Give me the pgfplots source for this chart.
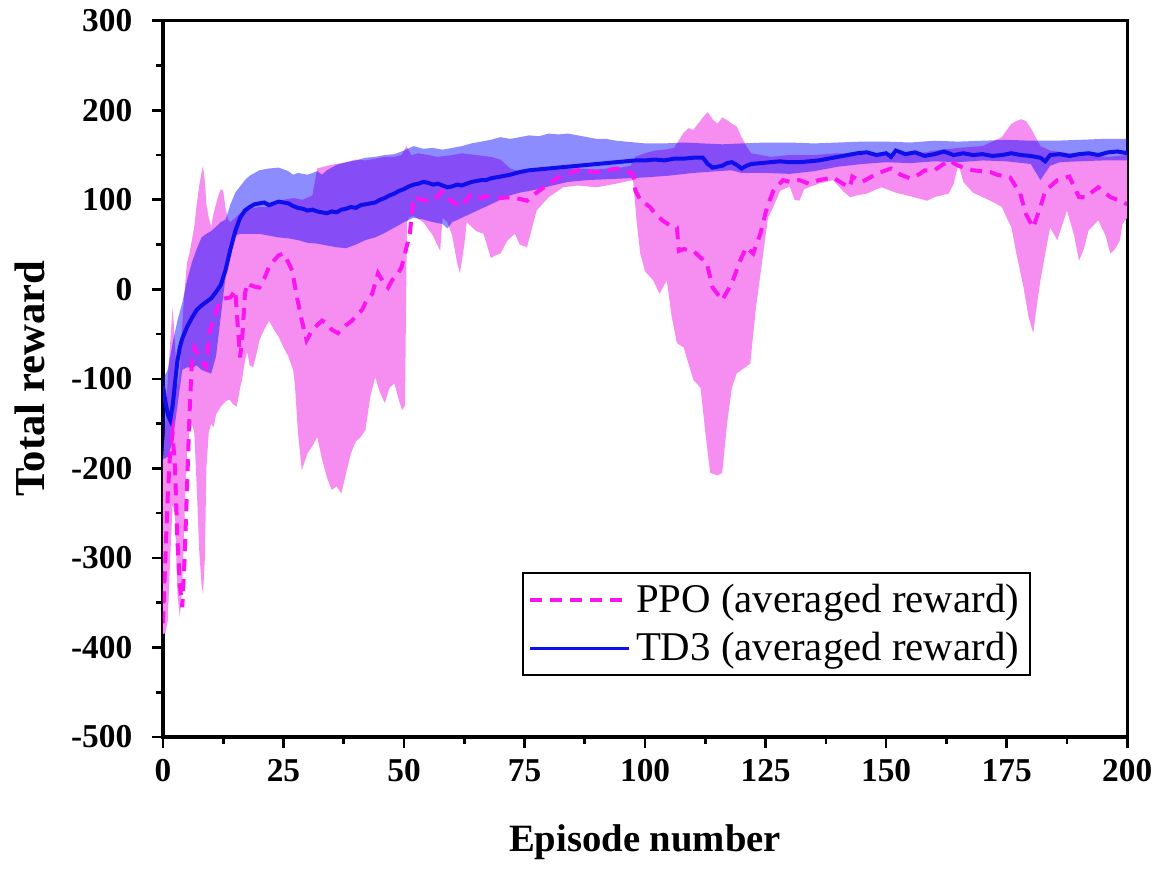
\documentclass[border=0pt]{standalone}
\usepackage{pgfplots}
\pgfplotsset{compat=1.18}
\usepgfplotslibrary{fillbetween}
\usepackage{fontspec}
\setmainfont{Liberation Serif}
\definecolor{ppofill}{RGB}{245,142,240}
\definecolor{ppoline}{RGB}{250,20,240}
\definecolor{tdline}{RGB}{15,15,235}
\begin{document}
\begin{tikzpicture}
\begin{axis}[
  width=361.5pt, height=268.5pt, scale only axis,
  xmin=0, xmax=200, ymin=-500, ymax=300,
  xtick={0,25,...,200}, ytick={-500,-400,...,300},
  minor x tick num=1, minor y tick num=1,
  tick align=outside, tick pos=left,
  major tick length=4pt, minor tick length=2.5pt,
  axis line style={line width=1.2pt}, every tick/.style={line width=1pt, black},
  /pgf/number format/assume math mode=true,
  ticklabel style={font=\fontsize{12.5}{12.5}\selectfont\bfseries},
  yticklabel style={xshift=-4pt},
  xticklabel style={yshift=-1pt},
  xlabel={Episode number}, ylabel={Total reward},
  xlabel style={font=\fontsize{14.5}{15}\selectfont\bfseries, yshift=-9pt},
  ylabel style={font=\fontsize{16}{16}\selectfont\bfseries},
  ylabel shift=3pt,
  legend style={at={(0.9,0.23)}, anchor=north east, font=\fontsize{15.3}{16}\selectfont,
    draw=black, line width=0.8pt, inner sep=2pt, row sep=2pt},
  legend cell align=left,
  legend image post style={line width=1.4pt},
  legend image code/.code={\draw[#1] (0cm,0cm) -- (1.3cm,0cm);},
]
% PPO band
\addplot[name path=pu, draw=none, forget plot] table {
0 -190
0.5 -150
1 -100
1.5 -60
2 -20
2.5 -60
3 -110
3.5 -90
4 -40
4.5 0
5 30
5.5 40
6 55
6.5 70
7 95
7.5 115
8 130
8.3 138
8.7 120
9 95
9.5 80
10 70
10.5 85
11 95
11.5 105
12 112
12.5 110
13 90
13.5 78
14 75
15 80
16 85
17 88
18 90
20 92
22 92
24 95
25 100
27 102
29 100
31 105
32 135
34 138
36 140
38 142
40 145
42 144
44 146
46 148
48 148
49.5 150
50.5 160
51.5 150
53 152
55 150
57 148
60 150
62 152
65 150
68 148
70 145
72 135
75 130
78 132
80 133
85 135
90 134
95 136
97 138
98 148
100 152
102 155
104 156
106 158
108 175
109 180
110 178
111 185
112 192
113 198
114 190
115 185
116 192
117 189
118 185
119 182
120 170
121 160
122 152
124 150
126 148
130 150
135 150
140 152
145 150
150 152
155 150
160 155
165 158
170 160
172 165
174 170
175 178
176 185
177 188
178 190
179 188
180 180
181 170
182 160
184 155
188 152
192 150
196 148
200 150
};
\addplot[name path=pl, draw=none, forget plot] table {
0 -385
0.5 -384
1 -370
1.5 -300
2 -240
2.5 -250
3 -340
3.5 -366
4 -330
4.5 -250
5 -180
5.5 -160
6 -150
6.5 -160
7 -220
7.5 -290
8 -330
8.3 -340
8.7 -300
9 -200
9.5 -160
10 -150
10.5 -154
11 -140
12 -131
13 -125
13.8 -123
14.5 -128
15.3 -131
16 -110
16.4 -101
17 -80
17.5 -70
18 -85
18.7 -87
19.5 -70
20 -57
21 -45
22 -35
23 -45
24 -53
25 -65
26 -75
27 -90
27.4 -109
28 -160
28.8 -202
30 -183
31 -175
32 -165
33 -190
34 -210
35 -224
36 -220
37 -228
38 -205
39 -183
40 -170
41 -165
42 -157
43 -120
44 -98
45 -115
46 -127
47 -110
48 -105
49 -125
49.6 -135
50.2 -130
50.6 75
51 80
52 82
54 75
56 60
57.5 43
58 80
59 75
60 60
61 30
61.6 18
62.5 50
63 75
64 70
65 65
66.5 62
68 35
69 38
70 40
71.5 55
73 62
74 50
75.5 47
77.5 88
80 103
83 114
86 116
90 114
94 118
97.5 122
98.3 73
99 40
100 20
101.7 10
103 -5
104.5 10
105.5 -30
106.6 -60
108 -65
110 -101
111.5 -110
112.5 -160
113.5 -205
115 -208
116 -205
117 -150
118 -110
119 -94
120 -90
121.8 -83
123 -20
124.5 40
125.5 80
126.6 92
128 110
130 115
131 100
132 99
133 112
136 118
139 122
141 110
142.5 103
144 105
146 107
149 114
152 108
155 104
158.5 99
160 103
163 107
164 118
165 140
166 120
168 108
170 103
172 98
174 92
175 80
176 69
177 40
178.5 2
179.5 -30
180.5 -49
181.2 -20
182 10
183 40
184 69
185.5 55
187.5 88
189 60
190 32
191 45
192 66
194 77
195.5 60
196.5 40
197.5 45
198.5 55
199 73
200 80
};
\addplot[ppofill, forget plot] fill between[of=pu and pl];
% TD3 band
\addplot[name path=tu, draw=none, forget plot] table {
0 -100
1 -90
2 -60
3 -35
4 -15
5 10
6 30
7 45
8 58
9 62
10 65
11 70
12 75
13 78
14 95
15 108
16 115
17 122
18 127
19 130
20 133
22 135
24 136
25 134
26 132
27 128
28 130
29 129
30 128
31 130
32 132
33 128
34 133
35 136
36 139
38 142
40 144
42 147
44 148
46 150
48 151
50 155
52 160
54 157
56 158
58 156
60 158
62 160
64 163
66 165
68 167
70 170
72 168
74 170
76 172
78 171
80 174
82 173
84 174
86 172
88 170
90 168
92 168
94 166
96 165
98 164
100 163
104 163
108 164
112 163
116 162
120 163
125 164
130 164
135 163
140 164
145 165
150 165
155 164
160 166
165 165
170 166
175 167
180 166
185 166
190 167
195 168
200 168
};
\addplot[name path=tl, draw=none, forget plot] table {
0 -190
1 -187
2 -170
3 -130
4 -90
5 -87
6 -88
7 -85
8 -90
9 -92
10 -94
11 -75
12 -30
13 15
14 45
15 60
16 62
18 62
20 62
22 60
24 58
26 57
28 55
30 52
32 51
34 49
36 47
38 46
40 50
42 55
44 58
46 63
48 69
50 75
52 80
54 78
56 75
58 73
59 68
60 75
62 80
64 85
66 90
68 95
70 100
72 105
74 108
76 110
78 112
80 115
84 120
88 122
92 123
96 124
100 125
105 127
110 130
115 132
118 133
120 130
125 130
130 129
135 132
140 137
145 140
150 142
155 141
160 143
165 142
170 144
175 143
180 140
182 122
184 138
186 142
190 143
195 144
200 144
};
\addplot[fill=blue, fill opacity=0.45, forget plot] fill between[of=tu and tl];
% PPO mean
\addplot[ppoline, line width=1.5pt, dash pattern=on 4.5pt off 3pt] table {
0 -373
0.5 -300
1 -230
1.5 -180
2 -161
2.5 -200
3 -280
3.5 -330
4 -355
4.5 -300
5 -220
5.5 -140
6 -80
6.5 -65
7 -70
8 -80
9 -87
9.5 -50
10 -42
11 -25
12 -12
13 -10
14 -9
15 -1
15.5 -40
16 -76
16.5 -50
17 -5
17.5 7
18 5
19 3
20 2
21 12
22 25
23 32
24 38
25 40
26 30
26.8 21
27.8 -9
28.8 -35
29.8 -57
31 -45
32 -40
33 -35
34 -38
35 -45
36.3 -49
37 -45
38 -40
39.2 -35
40 -30
41.3 -23
42 -15
43.4 -5
44.6 18
45.5 10
46.7 2
47.5 10
48.8 18
49.5 25
50.2 40
51.2 62
52 103
53 101
54 100
55 98
56 99
57 104
58 110
59 103
60 98
61 95
61.6 92
63 100
64 107
65 105
66 102
67 104
68.5 103
70 102
72 103
74 101
75.5 99
77 106
79 114
80 118
82 125
84 129
86 133
88 132
90 131
92 133
94 135
96 132
97.5 129
98 110
99 100
101 92
102 85
103.6 77
105 72
106.6 69
107 43
108 45
110 43
111 38
112.8 29
114 2
116 -12
118 7
119.7 32
121 47
122.4 40
123.9 62
125.3 92
126.6 110
128.6 122
130 120
132 122
134 118
136 122
139 125
141 118
142.5 114
143 126
145 120
148 129
151 135
153 128
155 124
157 129
158 133
160 133
163 144
165 138
168 133
171.6 131
173 128
175.7 125
177.8 107
179 84
180.5 69
182 92
183 110
185.5 122
188 126
190 103
191.5 103
193 110
194 114
196.5 103
198.5 99
200 95
};
\addlegendentry{PPO (averaged reward)}
% TD3 mean
\addplot[tdline, line width=1.5pt] table {
0 -108
0.5 -125
1 -140
1.5 -146
2 -130
2.5 -105
3 -80
3.5 -65
4 -55
5 -42
6 -32
7 -23
8 -18
9 -14
10 -10
11 -3
12 5
13 22
14 45
15 65
16 80
17 88
18 92
19 95
20 96
21 97
22 94
23 96
24 98
25 97
26 96
27 93
28 91
29 90
30 88
31 89
32 87
33 86
34 85
35 87
36 86
37 89
38 90
39 92
40 91
41 94
42 95
43 96
44 97
45 100
46 102
47 105
48 107
49 110
50 112
51 115
52 117
53 118
54 120
55 119
56 117
57 118
58 116
59 114
60 115
61 117
62 116
63 118
64 120
65 121
66 122
67 122
68 124
69 125
70 126
72 128
74 131
76 133
78 134
80 135
82 136
84 137
86 138
88 139
90 140
92 141
94 142
96 143
98 144
100 144
102 145
104 144
106 146
108 146
110 147
112 147
113 140
114 136
115 137
116 138
117 141
118 142
119 139
120 135
121 138
122 140
124 141
126 142
128 143
130 142
132 142
134 143
136 144
138 146
140 148
142 150
144 152
146 153
148 150
150 152
151 148
152 155
154 151
156 153
158 149
160 151
162 154
164 150
166 152
168 150
170 151
172 149
174 150
176 152
178 150
180 149
182 147
183 143
184 150
186 151
188 149
190 151
192 152
194 150
196 153
198 154
200 152
};
\addlegendentry{TD3 (averaged reward)}
\coordinate (bbl) at (rel axis cs:-0.169,-0.187);
\coordinate (btr) at (rel axis cs:1.034,1.029);
\end{axis}
\pgfresetboundingbox
\path (bbl) rectangle (btr);
\end{tikzpicture}
\end{document}
